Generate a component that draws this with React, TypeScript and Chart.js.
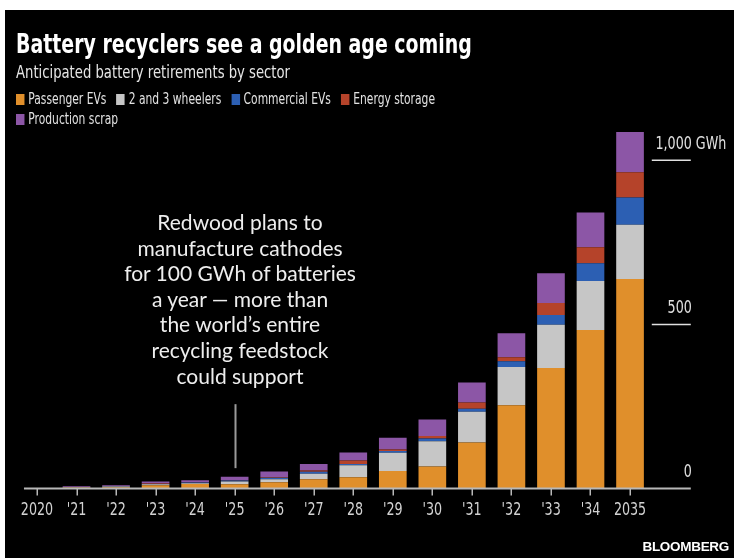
import React, { useEffect, useRef } from "react";
import { Chart, registerables } from "chart.js";

Chart.register(...registerables);

// ---- data ----
const categories = ["2020", "'21", "'22", "'23", "'24", "'25", "'26", "'27", "'28", "'29", "'30", "'31", "'32", "'33", "'34", "2035"];
const passengerEVs = [0, 3, 4, 10, 14, 13, 19, 28, 34, 53, 67, 140, 254, 367, 483, 638];
const twoThreeWheelers = [0, 1, 2, 3, 2, 8, 9, 17, 37, 56, 77, 94, 116, 132, 149, 166];
const commercialEVs = [0, 0.3, 0.5, 1, 2, 3, 5, 6, 4, 5, 8, 9, 18, 30, 54, 83];
const energyStorage = [0, 0.3, 0.5, 1, 1, 1, 2, 4, 10, 5, 8, 19, 12, 36, 49, 77];
const productionScrap = [0, 2, 3, 6, 6, 11, 17, 20, 25, 36, 50, 61, 73, 91, 106, 122];
const seriesNames = ["Passenger EVs", "2 and 3 wheelers", "Commercial EVs", "Energy storage", "Production scrap"];
const seriesColors = ["#E08F2B", "#C6C6C6", "#2C5FB3", "#B5432A", "#8C56A6"];
const yTickValues = [0, 500, 1000];
const yTickLabels = ["0", "500", "1,000"];
const yUnit = " GWh";
const annotationCategory = 5; // '25
const annotationRange = [62, 257];
const annotationLines = [
  "Redwood plans to",
  "manufacture cathodes",
  "for 100 GWh of batteries",
  "a year \u2014 more than",
  "the world\u2019s entire",
  "recycling feedstock",
  "could support",
];

const W = 729;
const H = 548;
const NARROW = '"Liberation Sans Narrow", "Arial Narrow", "DejaVu Sans Condensed", "DejaVu Sans", sans-serif';
const SQ = 0.83; // horizontal squeeze for the condensed house font

export default function App() {
  const ref = useRef<HTMLCanvasElement>(null);

  useEffect(() => {
    const canvas = ref.current;
    if (!canvas) return;
    const squeezedText = (ctx: CanvasRenderingContext2D, t: string, x: number, y: number, align: CanvasTextAlign) => {
      ctx.save();
      ctx.translate(x, y);
      ctx.scale(SQ, 1);
      ctx.textAlign = align;
      ctx.fillText(t, 0, 0);
      ctx.restore();
    };
    const overlay = {
      id: "overlay",
      afterDatasetsDraw(chart: any) {
        const ctx = chart.ctx as CanvasRenderingContext2D;
        const xs = chart.scales.x;
        const ys = chart.scales.y;
        const area = chart.chartArea;
        const y0 = ys.getPixelForValue(0);
        ctx.save();
        // baseline
        ctx.strokeStyle = "#b8b8b8";
        ctx.lineWidth = 2;
        ctx.beginPath();
        ctx.moveTo(xs.getPixelForValue(0) - 13, y0);
        ctx.lineTo(area.right + 41, y0);
        ctx.stroke();
        // ticks
        ctx.lineWidth = 1.5;
        ctx.beginPath();
        categories.forEach((_, i) => {
          const px = Math.round(xs.getPixelForValue(i)) + 0.25;
          ctx.moveTo(px, y0);
          ctx.lineTo(px, y0 + 7);
        });
        ctx.stroke();
        // x labels
        ctx.fillStyle = "#d2d2d2";
        ctx.font = `17px ${NARROW}`;
        ctx.textBaseline = "middle";
        categories.forEach((c, i) => {
          squeezedText(ctx, c, xs.getPixelForValue(i), y0 + 22, "center");
        });
        // right axis
        ctx.strokeStyle = "#e0e0e0";
        ctx.lineWidth = 1.5;
        yTickValues.forEach((v, i) => {
          const py = ys.getPixelForValue(v);
          if (v !== 0) {
            ctx.beginPath();
            ctx.moveTo(area.right + 2, py);
            ctx.lineTo(area.right + 41, py);
            ctx.stroke();
          }
          ctx.fillStyle = "#e0e0e0";
          squeezedText(ctx, yTickLabels[i], area.right + 42, py - 16, "right");
          if (i === yTickValues.length - 1) {
            squeezedText(ctx, yUnit, area.right + 42, py - 16, "left");
          }
        });
        // annotation line
        const ax = Math.round(xs.getPixelForValue(annotationCategory)) + 0.5;
        ctx.strokeStyle = "#9a9a9a";
        ctx.lineWidth = 2;
        ctx.beginPath();
        ctx.moveTo(ax, ys.getPixelForValue(annotationRange[1]));
        ctx.lineTo(ax, ys.getPixelForValue(annotationRange[0]));
        ctx.stroke();
        ctx.restore();
      },
    };

    const data = [passengerEVs, twoThreeWheelers, commercialEVs, energyStorage, productionScrap];
    const chart = new Chart(canvas, {
      type: "bar",
      data: {
        labels: categories,
        datasets: data.map((d, i) => ({
          label: seriesNames[i],
          data: d,
          backgroundColor: seriesColors[i],
          borderWidth: 0,
          barPercentage: 0.7,
          categoryPercentage: 1,
          stack: "s",
        })),
      },
      options: {
        animation: false,
        responsive: false,
        layout: { padding: { left: 12.2, right: 84.2, top: 117.5, bottom: 69.5 } },
        plugins: { legend: { display: false }, title: { display: false }, tooltip: { enabled: false } },
        scales: {
          x: { display: false, stacked: true },
          y: { display: false, stacked: true, min: 0, max: 1100 },
        },
      },
      plugins: [overlay],
    });
    return () => chart.destroy();
  }, []);

  return (
    <div style={{ position: "absolute", left: 5, top: 10, width: W, height: H, background: "#000", overflow: "hidden" }}>
      <canvas ref={ref} width={W} height={H} style={{ position: "absolute", left: 0, top: 0, width: W, height: H }} />
      <div style={{ position: "absolute", left: 11, top: 18, lineHeight: "32px", fontSize: 26, fontWeight: 700, color: "#fff", fontFamily: NARROW, whiteSpace: "nowrap", transform: "scaleX(0.81)", transformOrigin: "0 0" }}>
        Battery recyclers see a golden age coming
      </div>
      <div style={{ position: "absolute", left: 11, top: 50, lineHeight: "24px", fontSize: 18, color: "#e6e6e6", fontFamily: NARROW, whiteSpace: "nowrap", transform: "scaleX(0.815)", transformOrigin: "0 0" }}>
        Anticipated battery retirements by sector
      </div>
      <div style={{ position: "absolute", left: 11, top: 79, width: 760, display: "flex", flexWrap: "wrap", rowGap: 0, columnGap: 13, fontSize: 15.5, lineHeight: "20px", color: "#e2e2e2", fontFamily: NARROW, transform: "scaleX(0.77)", transformOrigin: "0 0" }}>
        {seriesNames.map((n, i) => (
          <div key={n} style={{ display: "flex", alignItems: "center", whiteSpace: "nowrap", width: i === 3 ? 260 : "auto" }}>
            <span style={{ display: "inline-block", width: 11, height: 11, background: seriesColors[i], marginRight: 5 }} />
            {n}
          </div>
        ))}
      </div>
      <div style={{ position: "absolute", left: 35, top: 199, width: 400, textAlign: "center", fontSize: 21, lineHeight: "25.6px", color: "#eeeeee", fontFamily: "Lato, 'Open Sans', sans-serif", whiteSpace: "nowrap" }}>
        {annotationLines.map((l) => (
          <div key={l}>{l}</div>
        ))}
      </div>
      <div style={{ position: "absolute", right: 5, top: 529, fontSize: 13.5, fontWeight: 900, color: "#fff", fontFamily: "'Liberation Sans', Arial, sans-serif", letterSpacing: -0.3 }}>
        BLOOMBERG
      </div>
    </div>
  );
}
